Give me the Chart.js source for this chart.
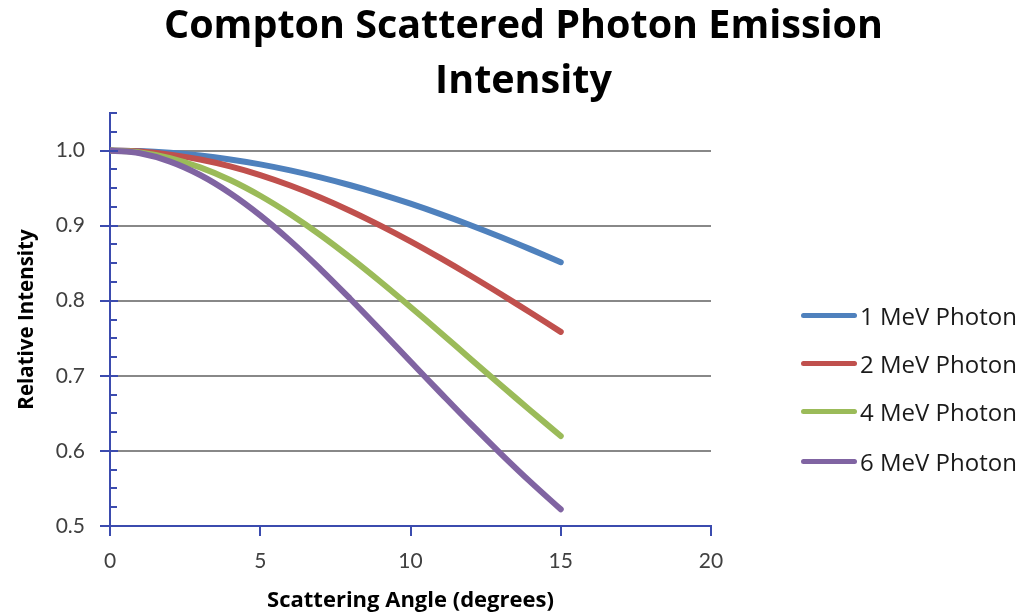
<!DOCTYPE html>
<html>
<head>
<meta charset="utf-8">
<script src="https://cdn.jsdelivr.net/npm/chart.js@4/dist/chart.umd.min.js"></script>
<style>
  html, body { margin: 0; padding: 0; background: #fff; }
  #wrap { position: relative; width: 1022px; height: 615px; font-family: "Open Sans", Lato, sans-serif; }
  #chart { position: absolute; left: 0; top: 0; }
  .title { position: absolute; left: 0; width: 1047px; text-align: center; font-weight: bold; font-size: 39.5px; color: #000; line-height: 1; }
  .legend-row { position: absolute; left: 801px; height: 24px; display: flex; align-items: center; }
  .legend-row i { display: block; width: 56px; height: 5px; border-radius: 3px; margin-right: 3px; }
  .legend-row span { font-size: 24px; color: #1a1a1a; white-space: nowrap; }
</style>
</head>
<body>
<div id="wrap">
  <canvas id="chart" width="1022" height="615"></canvas>
  <div class="title" style="top:4px">Compton Scattered Photon Emission</div>
  <div class="title" style="top:59px">Intensity</div>
  <div id="legend"></div>
</div>
<script>
// scattering angle, degrees
const angles = [0, 1, 2, 3, 4, 5, 6, 7, 8, 9, 10, 11, 12, 13, 14, 15];

// relative intensity per photon energy
const mev1 = [1.0000, 0.9993, 0.9970, 0.9933, 0.9881, 0.9816, 0.9736, 0.9643, 0.9538, 0.9421, 0.9293, 0.9154, 0.9006, 0.8849, 0.8684, 0.8513];
const mev2 = [1.0000, 0.9987, 0.9946, 0.9880, 0.9789, 0.9673, 0.9534, 0.9375, 0.9196, 0.9000, 0.8790, 0.8566, 0.8332, 0.8089, 0.7839, 0.7585];
const mev4 = [1.0000, 0.9975, 0.9899, 0.9776, 0.9608, 0.9398, 0.9152, 0.8876, 0.8574, 0.8253, 0.7917, 0.7574, 0.7225, 0.6878, 0.6535, 0.6198];
const mev6 = [1.0000, 0.9963, 0.9853, 0.9674, 0.9432, 0.9137, 0.8797, 0.8422, 0.8023, 0.7610, 0.7190, 0.6773, 0.6362, 0.5965, 0.5584, 0.5222];

const seriesLabels = ["1 MeV Photon", "2 MeV Photon", "4 MeV Photon", "6 MeV Photon"];
const seriesColors = ["#4F81BD", "#C0504D", "#9BBB59", "#8064A2"];

const yMajorTicks = [0.5, 0.6, 0.7, 0.8, 0.9, 1.0];
const xMajorTicks = [0, 5, 10, 15, 20];

const AXIS_BLUE = "#3B4BAE";
const TICK_FONT = "Lato, 'Open Sans', sans-serif";
const TITLE_FONT = "'Open Sans', Lato, sans-serif";

const seriesValues = [mev1, mev2, mev4, mev6];

// HTML legend on the right, one row per series
const legendEl = document.getElementById("legend");
const legendTops = [303, 351, 399, 449];
seriesLabels.forEach((label, i) => {
  const row = document.createElement("div");
  row.className = "legend-row";
  row.style.top = legendTops[i] + "px";
  row.innerHTML = `<i style="background:${seriesColors[i]}"></i><span>${label}</span>`;
  legendEl.appendChild(row);
});

// Excel-style tick marks: majors cross the y axis, minors sit inside;
// x ticks point outward (down).
const tickMarks = {
  id: "tickMarks",
  afterDraw(chart) {
    const { ctx, scales: { x, y } } = chart;
    const x0 = x.left, yb = y.bottom;
    ctx.save();
    ctx.strokeStyle = AXIS_BLUE;
    ctx.lineWidth = 2;
    ctx.beginPath();
    for (let i = 0; i <= 22; i++) {
      const v = 0.5 + i * 0.025;
      const py = Math.round(y.getPixelForValue(v));
      if (i % 4 === 0) {
        ctx.moveTo(x0 - 10, py); ctx.lineTo(x0 + 8, py);
      } else {
        ctx.moveTo(x0, py); ctx.lineTo(x0 + 7, py);
      }
    }
    xMajorTicks.forEach((v) => {
      const px = Math.round(x.getPixelForValue(v));
      ctx.moveTo(px, yb); ctx.lineTo(px, yb + 10);
    });
    ctx.stroke();
    ctx.restore();
  },
};

new Chart(document.getElementById("chart"), {
  type: "line",
  data: {
    datasets: seriesValues.map((vals, i) => ({
      label: seriesLabels[i],
      data: angles.map((a, j) => ({ x: a, y: vals[j] })),
      borderColor: seriesColors[i],
      backgroundColor: seriesColors[i],
      borderWidth: 6,
      borderCapStyle: "round",
      borderJoinStyle: "round",
      pointRadius: 0,
      tension: 0.4,
      order: seriesValues.length - i,
    })),
  },
  options: {
    responsive: false,
    animation: false,
    layout: { padding: { top: 113, right: 311, left: 0, bottom: 0 } },
    plugins: { legend: { display: false }, tooltip: { enabled: false } },
    scales: {
      x: {
        type: "linear",
        min: 0,
        max: 20,
        afterBuildTicks: (s) => { s.ticks = xMajorTicks.map((v) => ({ value: v })); },
        afterFit: (s) => { s.height = 89; },
        grid: { display: false, drawTicks: false },
        border: { color: AXIS_BLUE, width: 2 },
        ticks: { color: "#404040", font: { family: TICK_FONT, size: 21 }, padding: 23, maxRotation: 0 },
        title: {
          display: true,
          text: "Scattering Angle (degrees)",
          color: "#000",
          font: { family: TITLE_FONT, size: 22, weight: "bold" },
          padding: { top: 0, bottom: 1 },
        },
      },
      y: {
        min: 0.5,
        max: 1.05,
        afterBuildTicks: (s) => { s.ticks = yMajorTicks.map((v) => ({ value: v })); },
        afterFit: (s) => { s.width = 110; },
        grid: { color: "#888", lineWidth: 2, drawTicks: false },
        border: { color: AXIS_BLUE, width: 2 },
        ticks: {
          color: "#404040",
          font: { family: TICK_FONT, size: 21 },
          padding: 25,
          callback: (v) => Number(v).toFixed(1),
        },
        title: {
          display: true,
          text: "Relative Intensity",
          color: "#000",
          font: { family: TITLE_FONT, size: 20.5, weight: "bold" },
          padding: { top: 15, bottom: 0 },
        },
      },
    },
  },
  plugins: [tickMarks],
});
</script>
</body>
</html>
